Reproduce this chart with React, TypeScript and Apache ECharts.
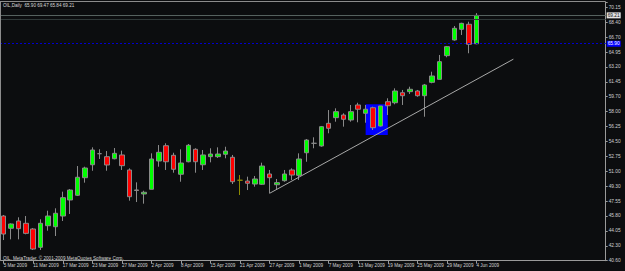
import React, { useEffect, useRef } from 'react';
import * as echarts from 'echarts';

const dates = [
  '5 Mar 2009', '6 Mar 2009', '9 Mar 2009', '10 Mar 2009', '11 Mar 2009', '12 Mar 2009', '13 Mar 2009',
  '16 Mar 2009', '17 Mar 2009', '18 Mar 2009', '19 Mar 2009', '20 Mar 2009', '23 Mar 2009', '24 Mar 2009',
  '25 Mar 2009', '26 Mar 2009', '27 Mar 2009', '30 Mar 2009', '31 Mar 2009', '1 Apr 2009', '2 Apr 2009',
  '3 Apr 2009', '6 Apr 2009', '7 Apr 2009', '8 Apr 2009', '9 Apr 2009', '13 Apr 2009', '14 Apr 2009',
  '15 Apr 2009', '16 Apr 2009', '17 Apr 2009', '20 Apr 2009', '21 Apr 2009', '22 Apr 2009', '23 Apr 2009',
  '24 Apr 2009', '27 Apr 2009', '28 Apr 2009', '29 Apr 2009', '30 Apr 2009', '1 May 2009', '4 May 2009',
  '5 May 2009', '6 May 2009', '7 May 2009', '8 May 2009', '11 May 2009', '12 May 2009', '13 May 2009',
  '14 May 2009', '15 May 2009', '18 May 2009', '19 May 2009', '20 May 2009', '21 May 2009', '22 May 2009',
  '25 May 2009', '26 May 2009', '27 May 2009', '28 May 2009', '29 May 2009', '1 Jun 2009', '2 Jun 2009',
  '3 Jun 2009', '4 Jun 2009',
];

const opens = [
  45.81, 44.38, 45.23, 44.96, 44.30, 42.16, 44.68, 44.56, 45.81, 47.68, 48.23, 50.28, 51.79, 53.08,
  52.73, 52.49, 52.93, 51.18, 48.85, 48.38, 48.93, 52.23, 54.01, 52.89, 50.68, 52.14, 53.59, 51.79,
  52.73, 52.73, 53.01, 52.66, 49.98, 49.89, 49.54, 49.51, 50.71, 49.46, 49.93, 51.18, 50.56, 53.19,
  54.29, 53.98, 56.62, 57.28, 57.59, 57.01, 58.76, 57.79, 58.44, 56.31, 59.14, 59.02, 60.19, 60.31,
  60.39, 59.84, 61.40, 61.75, 64.51, 66.34, 67.58, 68.17, 65.90,
];
const highs = [
  45.93, 44.95, 45.66, 45.81, 44.41, 45.43, 46.43, 46.71, 48.65, 48.96, 51.64, 51.56, 53.82, 53.59,
  53.39, 53.74, 53.43, 51.37, 49.74, 48.76, 53.12, 54.09, 54.29, 53.19, 53.59, 54.21, 53.71, 53.51,
  53.71, 53.82, 53.89, 52.93, 50.59, 50.40, 50.48, 52.03, 51.18, 50.13, 51.18, 51.37, 53.12, 54.79,
  54.99, 56.31, 58.17, 58.37, 57.79, 58.76, 59.02, 58.76, 58.56, 58.64, 59.54, 60.70, 60.51, 60.89,
  60.51, 61.21, 62.64, 64.59, 65.64, 67.97, 68.35, 68.47, 69.47,
];
const lows = [
  43.01, 43.09, 43.09, 43.68, 41.85, 41.85, 44.10, 43.48, 45.23, 46.05, 48.14, 49.70, 51.09, 52.46,
  51.09, 52.42, 51.18, 47.60, 47.44, 47.25, 48.93, 51.56, 51.18, 50.86, 49.81, 52.07, 50.86, 51.18,
  52.07, 52.58, 52.54, 49.54, 48.26, 48.84, 49.23, 49.43, 48.46, 48.84, 49.81, 50.01, 50.01, 52.14,
  53.71, 53.89, 55.46, 56.81, 56.23, 56.81, 56.74, 56.69, 55.84, 56.23, 57.59, 58.84, 58.76, 60.04,
  59.72, 57.39, 61.29, 61.75, 64.32, 66.26, 66.92, 64.79, 65.84,
];
const closes = [
  43.71, 44.88, 44.33, 43.79, 41.96, 44.96, 45.81, 46.13, 47.95, 48.84, 50.33, 51.41, 53.51, 53.08,
  51.76, 53.12, 51.68, 48.06, 48.79, 48.58, 52.46, 53.24, 52.14, 51.26, 51.99, 54.06, 52.14, 52.93,
  53.04, 53.04, 53.39, 49.81, 49.98, 49.63, 50.13, 51.64, 50.28, 49.70, 50.71, 50.59, 52.46, 54.67,
  54.29, 56.23, 56.04, 57.98, 57.09, 57.98, 58.26, 58.26, 56.11, 58.64, 58.67, 60.39, 59.84, 60.59,
  59.84, 61.09, 62.14, 63.81, 65.56, 67.70, 68.28, 65.84, 69.21,
];

const oliveDojiIndex = 32;
const emptySlots = 17;

const yTickLabels = [
  '40.60', '42.30', '44.05', '45.80', '47.55', '49.30', '51.00', '52.75', '54.50',
  '56.25', '58.00', '59.70', '61.45', '63.20', '64.95', '66.70', '68.40', '70.15',
];
const yMin = 40.6;
const yMax = 70.768;
const yStep = 1.73824;

const trendline = [
  { index: 36, value: 48.46 },
  { index: 69, value: 64.1 },
];
const highlightBox = { fromIndex: 49, toIndex: 52, top: 58.84, bottom: 55.26 };
const bidLevel = 69.21;
const secondLevel = 68.79;
const blueLevel = 65.9;

const FONT = 'Liberation Sans';

export default function App() {
  const ref = useRef<HTMLDivElement>(null);
  useEffect(() => {
    const chart = echarts.init(ref.current!, null, { renderer: 'svg' });
    const cats = [...dates, ...Array.from({ length: emptySlots }, (_, i) => `pad${i}`)];
    const olive = '#8c8a00';
    const candleData = dates.map((_, i) => {
      const v = [opens[i], closes[i], lows[i], highs[i]];
      if (i === oliveDojiIndex) {
        return {
          value: v,
          itemStyle: { color: olive, color0: olive, borderColor: olive, borderColor0: olive, borderColorDoji: olive },
        };
      }
      return v;
    });
    const trendData = cats.map((_, i) => {
      const p = trendline.find((t) => t.index === i);
      return p ? p.value : null;
    });
    const last = dates.length - 1;
    const title = `OIL,Daily  ${opens[last].toFixed(2)} ${highs[last].toFixed(2)} ${lows[last].toFixed(2)} ${closes[last].toFixed(2)}`;
    const showIdx = (i: number) => i % 4 === 0 && i < dates.length;

    chart.setOption({
      animation: false,
      backgroundColor: '#0c0d0f',
      grid: { left: -1.9, right: 19.3, top: 2, bottom: 10.3, containLabel: false },
      xAxis: {
        type: 'category',
        data: cats,
        boundaryGap: true,
        axisLine: { show: true, lineStyle: { color: '#9a9a9a', width: 1 } },
        axisTick: { show: true, length: 3, alignWithLabel: true, interval: (i: number) => showIdx(i), lineStyle: { color: '#9a9a9a' } },
        axisLabel: {
          show: true,
          interval: (i: number) => showIdx(i),
          align: 'left',
          margin: 2,
          fontSize: 4.6,
          fontFamily: FONT,
          color: '#d0d0d0',
          formatter: (v: string) => (v.startsWith('pad') ? '' : v),
        },
        splitLine: { show: false },
      },
      yAxis: {
        type: 'value',
        position: 'right',
        scale: true,
        min: yMin,
        max: yMax,
        interval: yStep,
        axisLine: { show: true, lineStyle: { color: '#9a9a9a', width: 1 } },
        axisTick: { show: true, length: 2, inside: false, lineStyle: { color: '#9a9a9a' } },
        axisLabel: {
          show: true,
          margin: 3,
          fontSize: 4.8,
          fontFamily: FONT,
          color: '#d0d0d0',
          formatter: (v: number) => {
            const k = Math.round((v - yMin) / yStep);
            if (Math.abs(v - (yMin + k * yStep)) > 0.01) return '';
            return yTickLabels[k] ?? '';
          },
        },
        splitLine: { show: false },
      },
      series: [
        {
          type: 'line',
          data: cats.map(() => null),
          z: 1,
          silent: true,
          symbol: 'none',
          markArea: {
            silent: true,
            itemStyle: { color: '#0000ff', opacity: 1 },
            data: [[
              { xAxis: cats[highlightBox.fromIndex], yAxis: highlightBox.top },
              { xAxis: cats[highlightBox.toIndex], yAxis: highlightBox.bottom },
            ]],
          },
          markLine: {
            silent: true,
            symbol: ['none', 'none'],
            animation: false,
            data: [
              {
                yAxis: bidLevel,
                lineStyle: { color: '#56625f', width: 1, type: 'solid' },
                label: {
                  show: true, position: 'end', distance: 1, formatter: bidLevel.toFixed(2),
                  fontSize: 4.8, fontFamily: FONT, color: '#111', backgroundColor: '#e2e2e2', padding: [0.5, 1],
                },
              },
              {
                yAxis: secondLevel,
                lineStyle: { color: '#2f3838', width: 1, type: 'solid' },
                label: { show: false },
              },
              {
                yAxis: blueLevel,
                lineStyle: { color: '#0000d0', width: 1, type: [2, 2] },
                label: {
                  show: true, position: 'end', distance: 1, formatter: blueLevel.toFixed(2),
                  fontSize: 4.8, fontFamily: FONT, color: '#ffffff', backgroundColor: '#0000ff', padding: [0.5, 1],
                },
              },
            ],
          },
        },
        {
          type: 'candlestick',
          data: candleData,
          z: 3,
          silent: true,
          barWidth: 5,
          itemStyle: {
            color: '#00ff00',
            color0: '#ff0000',
            borderColor: '#8a8a8a',
            borderColor0: '#8a8a8a',
            borderColorDoji: '#8a8a8a',
            borderWidth: 1,
          },
        },
        {
          type: 'line',
          data: trendData,
          connectNulls: true,
          z: 4,
          silent: true,
          symbol: 'none',
          lineStyle: { color: '#a8a8a8', width: 1 },
        },
      ],
      graphic: [
        { type: 'line', z: 50, shape: { x1: 0, y1: 1.5, x2: 605.7, y2: 1.5 }, style: { stroke: '#8c8c8c', lineWidth: 1 } },
        { type: 'line', z: 50, shape: { x1: 0.5, y1: 1.5, x2: 0.5, y2: 261 }, style: { stroke: '#8c8c8c', lineWidth: 1 } },
        {
          type: 'text', z: 60, x: 3, y: 5,
          style: { text: title, fill: '#d8d8d8', fontSize: 4.6, fontFamily: FONT, verticalAlign: 'middle' },
        },
        {
          type: 'text', z: 60, x: 3, y: 258,
          style: { text: 'OIL, MetaTrader, © 2001-2009 MetaQuotes Software Corp.', fill: '#d8d8d8', fontSize: 4.6, fontFamily: FONT, verticalAlign: 'middle' },
        },
      ],
    });
    return () => chart.dispose();
  }, []);
  return <div ref={ref} style={{ position: 'fixed', left: 0, top: 0, width: 625, height: 271 }} />;
}
